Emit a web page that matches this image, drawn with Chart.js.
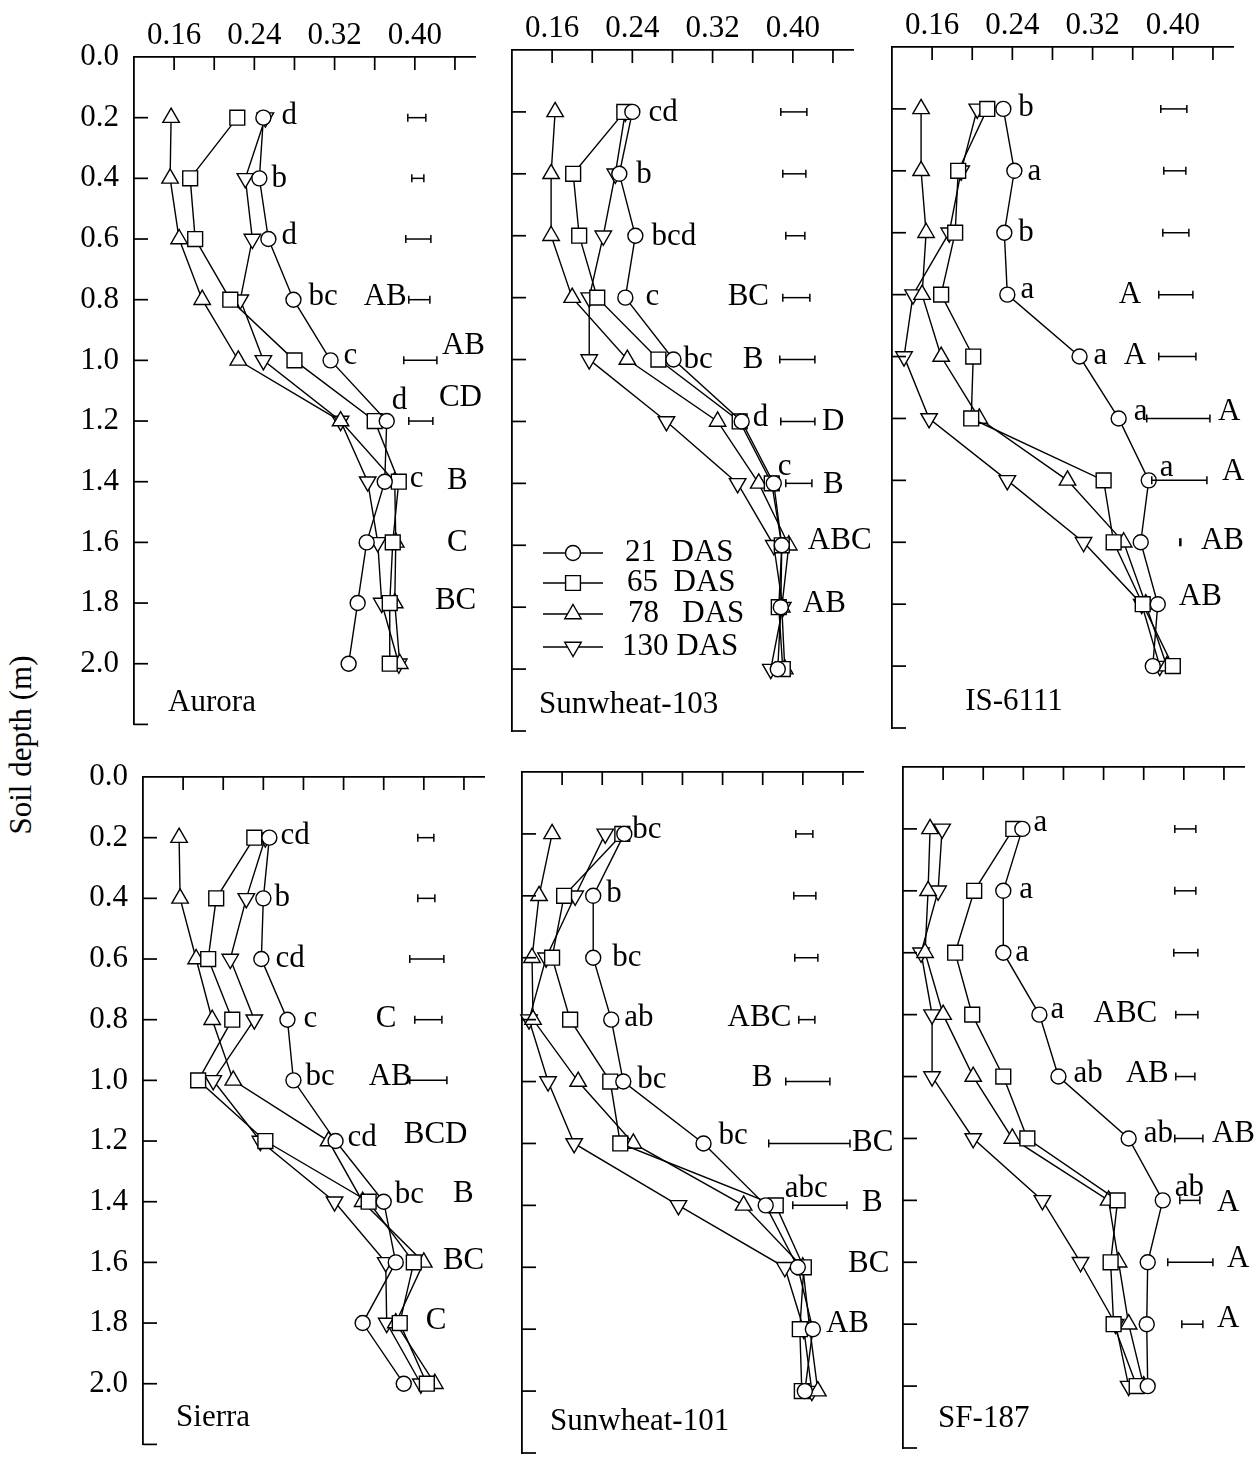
<!DOCTYPE html>
<html>
<head>
<meta charset="utf-8">
<script src="https://cdn.jsdelivr.net/npm/chart.js@4.4.1/dist/chart.umd.min.js"></script>
<style>
  body { margin: 0; background: #fff; width: 1257px; height: 1458px; position: relative; overflow: hidden; }
  canvas { position: absolute; }
  #ytitle {
    position: absolute; left: 21px; top: 745px;
    transform: translate(-50%, -50%) rotate(-90deg);
    font: 31px "Liberation Serif", "Times New Roman", serif;
    white-space: nowrap; color: #000;
  }
</style>
</head>
<body>
<div id="ytitle">Soil depth (m)</div>
<script>
// soil depths (m) and axis ticks
const depths = [0.2, 0.4, 0.6, 0.8, 1.0, 1.2, 1.4, 1.6, 1.8, 2.0];
const xLabelTicks = [0.16, 0.24, 0.32, 0.40];
const xTickMarks = [0.16, 0.20, 0.24, 0.28, 0.32, 0.36, 0.40, 0.44];
const yLabelTicks = [0.0, 0.2, 0.4, 0.6, 0.8, 1.0, 1.2, 1.4, 1.6, 1.8, 2.0];
const yTickMarks = [0.2, 0.4, 0.6, 0.8, 1.0, 1.2, 1.4, 1.6, 1.8, 2.0, 2.2];
const seriesLabels = ['21  DAS', '65  DAS', '78   DAS', '130 DAS'];

// Aurora
const aurora21  = [0.249, 0.245, 0.254, 0.279, 0.316, 0.372, 0.370, 0.352, 0.343, 0.334];
const aurora65  = [0.223, 0.176, 0.181, 0.216, 0.280, 0.360, 0.384, 0.378, 0.375, 0.375];
const aurora78  = [0.157, 0.156, 0.165, 0.188, 0.224, 0.326, 0.380, 0.381, 0.380, 0.385];
const aurora130 = [0.251, 0.231, 0.238, 0.226, 0.249, 0.326, 0.353, 0.363, 0.367, 0.384];
const auroraLsd = [[0.393,0.411],[0.397,0.409],[0.391,0.416],[0.394,0.415],[0.389,0.422],[0.394,0.418],null,null,null,null];
const auroraLetters = [['d',0.267,0.194],['b',0.257,0.403],['d',0.267,0.590],['bc',0.294,0.790],['c',0.329,0.984],['d',0.377,1.132],['c',0.395,1.39],
  ['AB',0.349,0.79],['AB',0.427,0.952],['CD',0.424,1.123],['B',0.432,1.397],['C',0.432,1.6],['BC',0.420,1.794]];

// Sunwheat-103
const sw103_21  = [0.240, 0.227, 0.243, 0.233, 0.281, 0.349, 0.381, 0.389, 0.388, 0.385];
const sw103_65  = [0.232, 0.181, 0.187, 0.205, 0.266, 0.347, 0.379, 0.389, 0.386, 0.390];
const sw103_78  = [0.163, 0.159, 0.159, 0.180, 0.235, 0.325, 0.366, 0.396, 0.389, 0.392];
const sw103_130 = [0.233, 0.223, 0.211, 0.197, 0.197, 0.274, 0.345, 0.381, 0.390, 0.378];
const sw103Lsd = [[0.388,0.414],[0.390,0.413],[0.393,0.412],[0.390,0.417],[0.387,0.422],[0.388,0.422],[0.393,0.419],null,null,null];
const sw103Letters = [['cd',0.256,0.203],['b',0.244,0.403],['bcd',0.259,0.603],['c',0.253,0.797],['bc',0.291,1.0],['d',0.360,1.187],['c',0.385,1.348],
  ['BC',0.335,0.797],['B',0.350,1.0],['D',0.429,1.2],['B',0.430,1.406],['ABC',0.415,1.587],['AB',0.410,1.79]];

// IS-6111
const is21  = [0.231, 0.242, 0.232, 0.235, 0.307, 0.346, 0.376, 0.368, 0.385, 0.380];
const is65  = [0.215, 0.186, 0.183, 0.169, 0.201, 0.199, 0.331, 0.341, 0.370, 0.400];
const is78  = [0.149, 0.149, 0.154, 0.150, 0.169, 0.207, 0.295, 0.351, 0.373, 0.394];
const is130 = [0.205, 0.189, 0.177, 0.141, 0.132, 0.157, 0.235, 0.311, 0.369, 0.387];
const isLsd = [[0.388,0.414],[0.391,0.413],[0.390,0.416],[0.386,0.420],[0.386,0.423],[0.374,0.437],[0.379,0.434],[0.407,0.408],null,null];
const isLetters = [['b',0.246,0.197],['a',0.255,0.403],['b',0.246,0.6],['a',0.248,0.784],['a',0.321,0.997],['a',0.361,1.18],['a',0.387,1.358],
  ['A',0.346,0.8],['A',0.351,0.997],['A',0.445,1.18],['A',0.449,1.371],['AB',0.428,1.597],['AB',0.406,1.777]];

// Sierra
const sierra21  = [0.246, 0.240, 0.238, 0.264, 0.270, 0.312, 0.360, 0.372, 0.339, 0.380];
const sierra65  = [0.231, 0.193, 0.185, 0.209, 0.175, 0.242, 0.345, 0.390, 0.376, 0.403];
const sierra78  = [0.156, 0.157, 0.173, 0.189, 0.210, 0.305, 0.339, 0.400, 0.372, 0.411];
const sierra130 = [0.242, 0.223, 0.207, 0.231, 0.190, 0.237, 0.311, 0.362, 0.363, 0.397];
const sierraLsd = [[0.394,0.410],[0.394,0.411],[0.386,0.420],[0.391,0.418],[0.386,0.423],null,null,null,null,null];
const sierraLetters = [['cd',0.257,0.194],['b',0.251,0.398],['cd',0.252,0.599],['c',0.280,0.796],['bc',0.282,0.99],['cd',0.324,1.191],['bc',0.371,1.379],
  ['C',0.352,0.796],['AB',0.345,0.987],['BCD',0.380,1.181],['B',0.429,1.375],['BC',0.419,1.595],['C',0.402,1.793]];

// Sunwheat-101
const sw101_21  = [0.222, 0.191, 0.191, 0.209, 0.221, 0.301, 0.363, 0.395, 0.410, 0.402];
const sw101_65  = [0.220, 0.162, 0.150, 0.168, 0.208, 0.218, 0.373, 0.401, 0.397, 0.399];
const sw101_78  = [0.150, 0.137, 0.130, 0.131, 0.176, 0.231, 0.341, 0.400, 0.407, 0.415];
const sw101_130 = [0.203, 0.173, 0.144, 0.127, 0.146, 0.172, 0.276, 0.382, 0.401, 0.409];
const sw101Lsd = [[0.393,0.410],[0.391,0.413],[0.392,0.415],[0.396,0.412],[0.383,0.427],[0.366,0.447],[0.390,0.444],null,null,null];
const sw101Letters = [['bc',0.230,0.188],['b',0.204,0.395],['bc',0.210,0.599],['ab',0.222,0.793],['bc',0.235,0.994],['bc',0.316,1.175],['abc',0.382,1.346],
  ['ABC',0.325,0.793],['B',0.349,0.987],['BC',0.449,1.197],['B',0.459,1.392],['BC',0.445,1.589],['AB',0.423,1.783]];

// SF-187
const sf21  = [0.239, 0.220, 0.220, 0.256, 0.275, 0.345, 0.379, 0.364, 0.363, 0.364];
const sf65  = [0.230, 0.191, 0.172, 0.189, 0.220, 0.244, 0.334, 0.327, 0.330, 0.353];
const sf78  = [0.147, 0.145, 0.142, 0.160, 0.190, 0.229, 0.325, 0.335, 0.345, 0.360];
const sf130 = [0.159, 0.155, 0.138, 0.149, 0.149, 0.190, 0.259, 0.297, 0.332, 0.345];
const sfLsd = [[0.391,0.412],[0.391,0.412],[0.390,0.414],[0.392,0.414],[0.392,0.411],[0.391,0.419],[0.396,0.416],[0.384,0.429],[0.398,0.419],null];
const sfLetters = [['a',0.250,0.181],['a',0.236,0.398],['a',0.232,0.599],['a',0.267,0.786],['ab',0.290,0.99],['ab',0.360,1.184],['ab',0.391,1.359],
  ['ABC',0.310,0.796],['AB',0.342,0.99],['AB',0.428,1.184],['A',0.433,1.408],['A',0.443,1.589],['A',0.433,1.783]];

const FONT = '"Liberation Serif", "Times New Roman", serif';
const FSIZE = 31;
const PAD_L = 134, PAD_T = 50, PAD_R = 70, PAD_B = 20;
const PLOT_W = 341, PLOT_H = 681;

// panel placement: left/top of plot area on the page
const panels = [
  { name: 'Aurora',       nameX: 0.154, nameD: 2.13,  left: 134, top: 57,  xLab: true,  yLab: true,  legend: false, series: [aurora21, aurora65, aurora78, aurora130], lsd: auroraLsd, letters: auroraLetters },
  { name: 'Sunwheat-103', nameX: 0.147, nameD: 2.115, left: 512, top: 50,  xLab: true,  yLab: false, legend: true,  series: [sw103_21, sw103_65, sw103_78, sw103_130], lsd: sw103Lsd, letters: sw103Letters },
  { name: 'IS-6111',      nameX: 0.193, nameD: 2.115, left: 892, top: 47,  xLab: true,  yLab: false, legend: false, series: [is21, is65, is78, is130], lsd: isLsd, letters: isLetters },
  { name: 'Sierra',       nameX: 0.153, nameD: 2.113, left: 143, top: 777, xLab: false, yLab: true,  legend: false, series: [sierra21, sierra65, sierra78, sierra130], lsd: sierraLsd, letters: sierraLetters },
  { name: 'Sunwheat-101', nameX: 0.148, nameD: 2.10,  left: 522, top: 772, xLab: false, yLab: false, legend: false, series: [sw101_21, sw101_65, sw101_78, sw101_130], lsd: sw101Lsd, letters: sw101Letters },
  { name: 'SF-187',       nameX: 0.155, nameD: 2.107, left: 903, top: 767, xLab: false, yLab: false, legend: false, series: [sf21, sf65, sf78, sf130], lsd: sfLsd, letters: sfLetters }
];

const markers = [
  { style: 'circle',   radius: 7.5,  rotation: 0 },
  { style: 'rect',     radius: 10.5, rotation: 0 },
  { style: 'triangle', radius: 9.5,  rotation: 0 },
  { style: 'triangle', radius: 9.5,  rotation: 180 }
];
const legendRows = [503, 533, 564, 597];
const legendTextX = [113, 115, 116, 110];

function makeDecor(p) {
  return {
    id: 'decor',
    afterDraw(chart) {
      const { ctx, chartArea: a } = chart;
      const x = chart.scales.x, y = chart.scales.y;
      const seg = (x0, y0, x1, y1) => { ctx.beginPath(); ctx.moveTo(x0, y0); ctx.lineTo(x1, y1); ctx.stroke(); };
      ctx.save();
      ctx.strokeStyle = '#000';
      ctx.lineWidth = 1.7;
      xTickMarks.forEach(v => { const px = x.getPixelForValue(v); seg(px, a.top, px, a.top + 13); });
      yTickMarks.forEach(v => { const py = y.getPixelForValue(v); seg(a.left, py, a.left + 14, py); });

      // LSD bars
      ctx.lineWidth = 1.5;
      p.lsd.forEach((e, i) => {
        if (!e) return;
        const py = y.getPixelForValue(depths[i]);
        const x0 = x.getPixelForValue(e[0]), x1 = x.getPixelForValue(e[1]);
        seg(x0, py, x1, py);
        seg(x0, py - 4, x0, py + 4);
        seg(x1, py - 4, x1, py + 4);
      });

      ctx.fillStyle = '#000';
      ctx.font = FSIZE + 'px ' + FONT;
      ctx.textAlign = 'left';
      ctx.textBaseline = 'middle';
      p.letters.forEach(([t, vx, vd]) => ctx.fillText(t, x.getPixelForValue(vx), y.getPixelForValue(vd)));
      ctx.fillText(p.name, x.getPixelForValue(p.nameX), y.getPixelForValue(p.nameD));

      if (p.legend) {
        markers.forEach((m, k) => {
          const ly = a.top + legendRows[k];
          ctx.lineWidth = 1.4;
          seg(a.left + 31, ly, a.left + 91, ly);
          ctx.fillStyle = '#fff';
          Chart.helpers.drawPoint(ctx, { pointStyle: m.style, radius: m.radius, rotation: m.rotation, borderWidth: 1.4 }, a.left + 61, ly);
          ctx.fillStyle = '#000';
          ctx.fillText(seriesLabels[k], a.left + legendTextX[k], ly);
        });
      }
      ctx.restore();
    }
  };
}

panels.forEach(p => {
  const cv = document.createElement('canvas');
  cv.width = PAD_L + PLOT_W + PAD_R;
  cv.height = PAD_T + PLOT_H + PAD_B;
  cv.style.left = (p.left - PAD_L) + 'px';
  cv.style.top = (p.top - PAD_T) + 'px';
  document.body.appendChild(cv);

  new Chart(cv, {
    type: 'scatter',
    data: {
      datasets: p.series.map((vals, k) => ({
        label: seriesLabels[k],
        data: vals.map((v, i) => ({ x: v, y: depths[i] })),
        showLine: true,
        tension: 0,
        borderColor: '#000',
        borderWidth: 1.4,
        backgroundColor: '#fff',
        pointStyle: markers[k].style,
        pointRadius: markers[k].radius,
        pointHoverRadius: markers[k].radius,
        pointRotation: markers[k].rotation,
        pointBorderColor: '#000',
        pointBackgroundColor: '#fff',
        pointBorderWidth: 1.4,
        clip: false
      }))
    },
    options: {
      responsive: false,
      animation: false,
      devicePixelRatio: 1,
      events: [],
      layout: { padding: { left: 0, top: 0, right: PAD_R, bottom: PAD_B } },
      plugins: { legend: { display: false }, tooltip: { enabled: false } },
      scales: {
        x: {
          type: 'linear', position: 'top', min: 0.12, max: 0.46,
          afterBuildTicks: s => { s.ticks = xLabelTicks.map(v => ({ value: v })); },
          afterFit: s => { s.height = PAD_T; },
          grid: { display: false, drawTicks: false },
          border: { display: true, color: '#000', width: 1.8 },
          ticks: { display: p.xLab, autoSkip: false, maxRotation: 0, padding: 3, color: '#000',
                   font: { family: FONT, size: FSIZE }, callback: v => v.toFixed(2) }
        },
        y: {
          type: 'linear', reverse: true, min: 0, max: 2.2,
          afterBuildTicks: s => { s.ticks = yLabelTicks.map(v => ({ value: v })); },
          afterFit: s => { s.width = PAD_L; },
          grid: { display: false, drawTicks: false },
          border: { display: true, color: '#000', width: 1.8 },
          ticks: { display: p.yLab, autoSkip: false, padding: 15, color: '#000',
                   font: { family: FONT, size: FSIZE }, callback: v => v.toFixed(1) }
        }
      }
    },
    plugins: [makeDecor(p)]
  });
});
</script>
</body>
</html>
